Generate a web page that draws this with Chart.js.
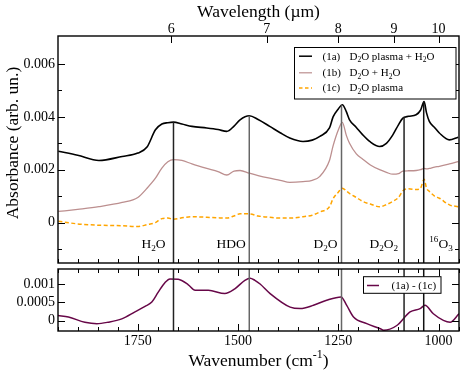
<!DOCTYPE html>
<html><head><meta charset="utf-8">
<script src="https://cdn.jsdelivr.net/npm/chart.js@4"></script>
<style>
html,body{margin:0;padding:0;background:#fff;}
body{width:463px;height:374px;overflow:hidden;position:relative;}
canvas{position:absolute;left:0;}
#c1{top:0;}
#c2{top:266px;}
</style></head>
<body>
<canvas id="c1" width="463" height="266"></canvas>
<canvas id="c2" width="463" height="108"></canvas>
<script>
// ---------- DATA ----------
const wavenumberTop = [1948,1900,1847,1789,1750,1727,1706,1690,1675,1661,1640,1615,1578,1550,1528,1510,1495,1472,1450,1421,1395,1371,1338,1315,1296,1272,1263,1250,1240,1230,1222,1205,1189,1170,1147,1130,1114,1100,1089,1075,1056,1045,1036,1030,1023,1010,998,973,951];
const absorbance1a = [0.00270,0.00255,0.00235,0.00250,0.00263,0.00286,0.00351,0.00373,0.00378,0.00380,0.00373,0.00364,0.00358,0.00352,0.00345,0.00365,0.00389,0.00404,0.00390,0.00364,0.00340,0.00320,0.00307,0.00312,0.00326,0.00358,0.00400,0.00430,0.00446,0.00420,0.00389,0.00360,0.00332,0.00305,0.00288,0.00300,0.00332,0.00370,0.00395,0.00402,0.00408,0.00425,0.00458,0.00415,0.00383,0.00360,0.00339,0.00313,0.00323];
const absorbance1b = [0.00042,0.00050,0.00060,0.00076,0.00095,0.00130,0.00168,0.00206,0.00230,0.00238,0.00235,0.00222,0.00205,0.00193,0.00180,0.00195,0.00197,0.00187,0.00178,0.00168,0.00160,0.00152,0.00155,0.00160,0.00175,0.00235,0.00290,0.00350,0.00379,0.00330,0.00300,0.00260,0.00240,0.00218,0.00200,0.00190,0.00183,0.00185,0.00195,0.00196,0.00197,0.00200,0.00205,0.00203,0.00205,0.00210,0.00213,0.00222,0.00231];
const absorbance1c = [0.00005,-0.00005,-0.00010,-0.00012,-0.00015,-0.00008,0.00000,0.00015,0.00017,0.00013,0.00018,0.00022,0.00020,0.00018,0.00017,0.00025,0.00033,0.00033,0.00025,0.00020,0.00017,0.00017,0.00022,0.00028,0.00040,0.00060,0.00090,0.00115,0.00130,0.00120,0.00110,0.00095,0.00080,0.00070,0.00060,0.00068,0.00080,0.00095,0.00120,0.00128,0.00125,0.00130,0.00164,0.00130,0.00118,0.00100,0.00092,0.00067,0.00060];
const wavenumberDiff = [1949,1923,1882,1852,1824,1790,1757,1732,1715,1699,1682,1670,1649,1624,1607,1574,1533,1508,1483,1470,1458,1445,1420,1370,1345,1312,1279,1243,1229,1212,1179,1145,1137,1104,1071,1046,1034,1013,988,971,949];
const difference1a1c = [0.00014,0.00010,-0.00004,-0.00008,-0.00004,0.00005,0.00024,0.00039,0.00051,0.00078,0.00104,0.00114,0.00113,0.00098,0.00083,0.00083,0.00074,0.00087,0.00110,0.00116,0.00110,0.00100,0.00074,0.00037,0.00033,0.00042,0.00056,0.00065,0.00042,0.00010,-0.00008,-0.00022,-0.00026,-0.00013,0.00024,0.00033,0.00042,0.00019,0.00001,-0.00004,0.00019];
const wavelengthTicks = [6,7,8,9,10];
const wavenumberTicks = [1750,1500,1250,1000];
const absorbanceTicks = [0,0.002,0.004,0.006];
const differenceTicks = [0,0.0005,0.001];
const bandPositions = [1661,1472,1242,1086,1037];
const bandTops = [0.0038,0.00404,0.00444,0.0040,0.00458];

// ---------- STYLE ----------
const FONT = "'Liberation Serif','Times New Roman',serif";
const WN_MIN = 949, WN_MAX = 1949;
const minorWn = []; for (let v = 950; v <= 1950; v += 50) if (!wavenumberTicks.includes(v)) minorWn.push(v);

function drawRich(ctx, parts, x, y, size, align) {
  const w = parts.map(([t, m]) => { ctx.font = (m ? size * 0.68 : size) + 'px ' + FONT; return ctx.measureText(t).width; });
  const total = w.reduce((a, b) => a + b, 0);
  let cx = align === 'right' ? x - total : align === 'center' ? x - total / 2 : x;
  ctx.textAlign = 'left'; ctx.textBaseline = 'alphabetic'; ctx.fillStyle = '#000';
  parts.forEach(([t, m], i) => {
    ctx.font = (m ? size * 0.68 : size) + 'px ' + FONT;
    ctx.fillText(t, cx, y + (m === 1 ? size * 0.24 : m === 2 ? -size * 0.42 : 0));
    cx += w[i];
  });
}
function inwardTicks(ctx, chart, id, majors, minors, sides) {
  const s = chart.scales[id], ca = chart.chartArea;
  ctx.save(); ctx.strokeStyle = '#000'; ctx.lineWidth = 1;
  const draw = (v, len) => {
    const p = Math.round(s.getPixelForValue(v)) + 0.5;
    sides.forEach(side => {
      ctx.beginPath();
      if (side === 'left') { ctx.moveTo(ca.left, p); ctx.lineTo(ca.left + len, p); }
      if (side === 'right') { ctx.moveTo(ca.right, p); ctx.lineTo(ca.right - len, p); }
      if (side === 'top') { ctx.moveTo(p, ca.top); ctx.lineTo(p, ca.top + len); }
      if (side === 'bottom') { ctx.moveTo(p, ca.bottom); ctx.lineTo(p, ca.bottom - len); }
      ctx.stroke();
    });
  };
  majors.forEach(v => draw(v, 7)); minors.forEach(v => draw(v, 4));
  ctx.restore();
}
function frame(ctx, ca) {
  ctx.save(); ctx.strokeStyle = '#000'; ctx.lineWidth = 1.4;
  ctx.strokeRect(ca.left, ca.top, ca.right - ca.left, ca.bottom - ca.top);
  ctx.restore();
}
const lineColors = ['#222', '#666', '#666', '#222', '#111'];
function bandLines(ctx, chart, full) {
  const sx = chart.scales.x, sy = chart.scales.y, ca = chart.chartArea;
  ctx.save(); ctx.lineWidth = 1.5;
  bandPositions.forEach((wn, i) => {
    const px = sx.getPixelForValue(wn);
    ctx.strokeStyle = lineColors[i];
    ctx.beginPath();
    ctx.moveTo(px, full ? ca.top : sy.getPixelForValue(bandTops[i]));
    ctx.lineTo(px, ca.bottom); ctx.stroke();
  });
  ctx.restore();
}
const tickFont = { family: FONT, size: 14 };
const noPad = s => { s.paddingTop = 0; s.paddingBottom = 0; s.paddingLeft = 0; s.paddingRight = 0; };

const topPlugin = {
  id: 'topDeco',
  afterDatasetsDraw(chart) {
    const ctx = chart.ctx, ca = chart.chartArea, sx = chart.scales.x;
    bandLines(ctx, chart, false);
    frame(ctx, ca);
    inwardTicks(ctx, chart, 'y', absorbanceTicks, [-0.001, 0.001, 0.003, 0.005], ['left', 'right']);
    inwardTicks(ctx, chart, 'x', wavenumberTicks, minorWn, ['bottom']);
    inwardTicks(ctx, chart, 'xTop', wavelengthTicks.map(l => 1e4 / l), [], ['top']);
    const by = 247.5;
    const labels = [
      [[['H', 0], ['2', 1], ['O', 0]], -8, 'right'],
      [[['HDO', 0]], -3.5, 'right'],
      [[['D', 0], ['2', 1], ['O', 0]], -4, 'right'],
      [[['D', 0], ['2', 1], ['O', 0], ['2', 1]], -6, 'right'],
      [[['16', 2], ['O', 0], ['3', 1]], 5.5, 'left']
    ];
    labels.forEach(([parts, off, al], i) => drawRich(ctx, parts, sx.getPixelForValue(bandPositions[i]) + off, by, 13.5, al));
    ctx.save();
    ctx.fillStyle = '#fff'; ctx.fillRect(294, 47.5, 162, 51.5);
    ctx.strokeStyle = '#000'; ctx.lineWidth = 1; ctx.strokeRect(294.5, 47.5, 161.5, 51.5);
    const rows = [
      ['#000', [], 1.5, '(1a)', [['D', 0], ['2', 1], ['O plasma + H', 0], ['2', 1], ['O', 0]]],
      ['#bc8f8f', [], 1.2, '(1b)', [['D', 0], ['2', 1], ['O + H', 0], ['2', 1], ['O', 0]]],
      ['#ffa500', [3.5, 2.5], 1.5, '(1c)', [['D', 0], ['2', 1], ['O plasma', 0]]]
    ];
    const ys = [55.7, 72.3, 87.5];
    rows.forEach((r, i) => {
      ctx.strokeStyle = r[0]; ctx.setLineDash(r[1]); ctx.lineWidth = r[2];
      ctx.beginPath(); ctx.moveTo(299, ys[i] + 0.5); ctx.lineTo(312, ys[i] + 0.5); ctx.stroke();
      ctx.setLineDash([]);
      drawRich(ctx, [[r[3], 0]], 322.5, ys[i] + 3.8, 11, 'left');
      drawRich(ctx, r[4], 349.5, ys[i] + 3.8, 11, 'left');
    });
    ctx.restore();
    drawRich(ctx, [['Wavelength (µm)', 0]], (ca.left + ca.right) / 2, 17, 17.5, 'center');
    ctx.save(); ctx.translate(18, 143); ctx.rotate(-Math.PI / 2);
    drawRich(ctx, [['Absorbance (arb. un.)', 0]], 0, 0, 17.5, 'center');
    ctx.restore();
  }
};

const bottomPlugin = {
  id: 'bottomDeco',
  afterDatasetsDraw(chart) {
    const ctx = chart.ctx, ca = chart.chartArea;
    bandLines(ctx, chart, true);
    frame(ctx, ca);
    inwardTicks(ctx, chart, 'y', differenceTicks, [], ['left', 'right']);
    inwardTicks(ctx, chart, 'x', wavenumberTicks, minorWn, ['top', 'bottom']);
    ctx.save();
    ctx.fillStyle = '#fff'; ctx.fillRect(363, 10.7, 78, 16.6);
    ctx.strokeStyle = '#000'; ctx.lineWidth = 1; ctx.strokeRect(363.5, 10.7, 77.5, 16.6);
    ctx.strokeStyle = '#670748'; ctx.lineWidth = 1.5;
    ctx.beginPath(); ctx.moveTo(367, 19.5); ctx.lineTo(379, 19.5); ctx.stroke();
    drawRich(ctx, [['(1a) - (1c)', 0]], 391.5, 22.8, 11, 'left');
    ctx.restore();
    drawRich(ctx, [['Wavenumber (cm', 0], ['-1', 2], [')', 0]], (ca.left + ca.right) / 2, 99.5, 17.5, 'center');
  }
};

const common = {
  responsive: false, animation: false, devicePixelRatio: 1,
  plugins: { legend: { display: false }, tooltip: { enabled: false } },
  elements: { point: { radius: 0 } }
};
const fmt = v => String(+(+v).toFixed(6));

new Chart(document.getElementById('c1'), {
  type: 'line',
  data: { datasets: [
    { data: wavenumberTop.map((x, i) => ({ x, y: absorbance1c[i] })), borderColor: '#ffa500', borderWidth: 1.5, borderDash: [4, 2.5], cubicInterpolationMode: 'monotone', xAxisID: 'x', yAxisID: 'y' },
    { data: wavenumberTop.map((x, i) => ({ x, y: absorbance1b[i] })), borderColor: '#bc8f8f', borderWidth: 1.3, cubicInterpolationMode: 'monotone', xAxisID: 'x', yAxisID: 'y' },
    { data: wavenumberTop.map((x, i) => ({ x, y: absorbance1a[i] })), borderColor: '#000', borderWidth: 1.6, cubicInterpolationMode: 'monotone', xAxisID: 'x', yAxisID: 'y' }
  ] },
  options: Object.assign({}, common, {
    layout: { padding: { left: 0, right: 4, top: 0, bottom: 3 } },
    scales: {
      x: { type: 'linear', min: WN_MIN, max: WN_MAX, reverse: true, display: false },
      xTop: { type: 'linear', position: 'top', min: WN_MIN, max: WN_MAX, reverse: true,
        grid: { display: false, drawTicks: false }, border: { display: false },
        afterBuildTicks: s => { s.ticks = wavelengthTicks.map(l => ({ value: 1e4 / l })); },
        ticks: { autoSkip: false, maxRotation: 0, padding: -2, color: '#000', font: tickFont, callback: v => String(Math.round(1e4 / v)) },
        afterFit: s => { s.height = 36; noPad(s); } },
      y: { type: 'linear', min: -0.00153, max: 0.00706,
        grid: { display: false, drawTicks: false }, border: { display: false },
        afterBuildTicks: s => { s.ticks = absorbanceTicks.map(v => ({ value: v })); },
        ticks: { padding: 3, color: '#000', font: tickFont, callback: fmt },
        afterFit: s => { s.width = 58; noPad(s); } }
    }
  }),
  plugins: [topPlugin]
});

new Chart(document.getElementById('c2'), {
  type: 'line',
  data: { datasets: [
    { data: wavenumberDiff.map((x, i) => ({ x, y: difference1a1c[i] })), borderColor: '#670748', borderWidth: 1.5, cubicInterpolationMode: 'monotone', xAxisID: 'x', yAxisID: 'y' }
  ] },
  options: Object.assign({}, common, {
    layout: { padding: { left: 0, right: 4, top: 3, bottom: 0 } },
    scales: {
      x: { type: 'linear', min: WN_MIN, max: WN_MAX, reverse: true,
        grid: { display: false, drawTicks: false }, border: { display: false },
        afterBuildTicks: s => { s.ticks = wavenumberTicks.map(v => ({ value: v })); },
        ticks: { autoSkip: false, maxRotation: 0, padding: 2, color: '#000', font: tickFont, callback: v => String(v) },
        afterFit: s => { s.height = 43; noPad(s); } },
      y: { type: 'linear', min: -0.00028, max: 0.00141,
        grid: { display: false, drawTicks: false }, border: { display: false },
        afterBuildTicks: s => { s.ticks = differenceTicks.map(v => ({ value: v })); },
        ticks: { padding: 3, color: '#000', font: tickFont, callback: fmt },
        afterFit: s => { s.width = 58; noPad(s); } }
    }
  }),
  plugins: [bottomPlugin]
});
</script>
</body></html>
